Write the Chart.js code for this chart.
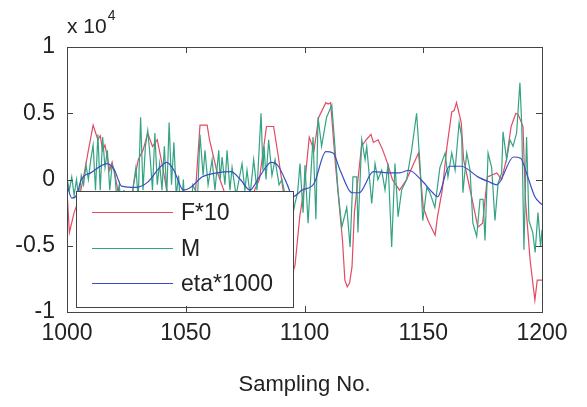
<!DOCTYPE html>
<html>
<head>
<meta charset="utf-8">
<title>F*10, M and eta*1000 against sampling number</title>
<script src="https://cdn.jsdelivr.net/npm/chart.js@4.4.1/dist/chart.umd.min.js"></script>
<style>
  html, body { margin: 0; padding: 0; background: #fff; }
  #wrap { position: relative; width: 587px; height: 407px; }
</style>
</head>
<body>
<div id="wrap"><canvas id="chart"></canvas></div>
<script>
// axis ticks (y values are in units of 1e4, see the "x 10^4" label)
const xTicks = [1000, 1050, 1100, 1150, 1200];
const xTickLabels = ['1000', '1050', '1100', '1150', '1200'];
const yTicks = [-1, -0.5, 0, 0.5, 1];
const yTickLabels = ['-1', '-0.5', '0', '0.5', '1'];

const seriesNames = ['F*10', 'M', 'eta*1000'];
const seriesColors = ['#e44a62', '#34a383', '#3b4cc6'];

// F*10, vertices only
const fX = [1000, 1001, 1003, 1005, 1007, 1009, 1011, 1013, 1014, 1015,
  1016, 1018, 1019, 1021, 1024, 1026, 1028, 1030, 1032, 1034,
  1036, 1038, 1040, 1042, 1044, 1048, 1051, 1054, 1056, 1059,
  1060, 1063, 1066, 1069, 1072, 1075, 1079, 1081, 1084, 1087,
  1089, 1091, 1093, 1095, 1096, 1098, 1100, 1102, 1104, 1106,
  1109, 1110, 1111, 1113, 1116, 1117, 1118, 1119, 1120, 1121,
  1124, 1126, 1128, 1129, 1131, 1133, 1135, 1137, 1140, 1143,
  1146, 1148, 1150, 1152, 1155, 1156, 1158, 1160, 1162, 1163,
  1164, 1166, 1167, 1170, 1173, 1175, 1177, 1181, 1183, 1185,
  1187, 1189, 1190, 1192, 1193, 1195, 1197, 1198, 1200];
const fY = [-0.08, -0.40, -0.25, -0.15, 0.02, 0.22, 0.41, 0.30, 0.33, 0.22,
  0.26, 0.07, 0.13, -0.04, -0.38, -0.30, -0.04, 0.15, 0.22, 0.35,
  0.25, 0.30, 0.12, -0.08, -0.46, -0.57, -0.38, -0.12, 0.41, 0.41,
  0.30, 0.07, -0.08, -0.42, -0.49, -0.27, -0.08, 0.0, 0.40, 0.40,
  0.17, -0.08, -0.61, -0.70, -0.65, -0.28, -0.05, 0.32, 0.22, 0.47,
  0.58, 0.57, 0.58, 0.12, -0.46, -0.76, -0.81, -0.78, -0.66, -0.25,
  0.25, 0.30, 0.34, 0.28, 0.30, 0.22, 0.12, 0.0, -0.08, 0.0,
  0.12, 0.20, -0.21, -0.31, -0.42, -0.28, -0.08, 0.25, 0.51, 0.52,
  0.58, 0.43, 0.15, -0.10, -0.36, -0.33, 0.02, 0.05, 0.0, 0.15,
  0.40, 0.50, 0.49, 0.40, -0.15, -0.61, -0.91, -0.76, -0.76];

// M - the spiky one
const mX = [1000, 1001, 1002, 1003, 1004, 1005, 1006, 1007, 1008, 1009,
  1010, 1011, 1012, 1013, 1014, 1015, 1016, 1017, 1018, 1019,
  1020, 1021, 1022, 1023, 1024, 1025, 1026, 1027, 1028, 1029,
  1030, 1031, 1032, 1033, 1034, 1035, 1036, 1037, 1038, 1039,
  1040, 1041, 1042, 1043, 1044, 1045, 1046, 1047, 1048, 1049,
  1050, 1051, 1052, 1053, 1055, 1056, 1057.3, 1058.1, 1059.4, 1061.1,
  1062.3, 1063.9, 1064.5, 1065.3, 1066.5, 1067.4, 1068.6, 1069.5, 1071.2, 1073.7,
  1074.9, 1075.8, 1077.1, 1078.6, 1080, 1081.7, 1082.5, 1083, 1083.8, 1084.9,
  1086.3, 1087.6, 1089.3, 1090.5, 1092.2, 1093.9, 1096, 1097.1, 1098.1, 1099.4,
  1100.2, 1101.5, 1103.6, 1104.8, 1105.7, 1107.2, 1109.3, 1111.5, 1112.8, 1114.1,
  1115.7, 1117.8, 1119.2, 1120.4, 1122, 1122.5, 1124.1, 1125.5, 1126.2, 1128.3,
  1129.7, 1130.9, 1132.5, 1133.9, 1135.2, 1136.7, 1138.1, 1139.4, 1140.9, 1143,
  1145.1, 1147.2, 1148.6, 1149.8, 1151.5, 1152.8, 1154.9, 1157, 1159.2, 1160.4,
  1162, 1163.4, 1165.1, 1166.2, 1166.7, 1168.3, 1169.7, 1170.9, 1172.5, 1173.9,
  1175.2, 1176, 1177.3, 1178.8, 1180.2, 1181.5, 1183, 1183.6, 1185.1, 1186.5,
  1187.8, 1189.3, 1190.7, 1191.5, 1192.4, 1193.5, 1194.5, 1196.1, 1197.1, 1198.3,
  1199.4, 1200];
const mY = [0.01, -0.08, 0.02, -0.12, 0.0, -0.15, 0.03, -0.04, 0.11, 0.0,
  0.15, 0.26, -0.08, 0.34, -0.08, 0.32, 0.09, 0.22, -0.08, 0.11,
  0.07, -0.15, -0.04, -0.27, -0.08, -0.34, -0.12, -0.23, -0.04, 0.09,
  -0.15, 0.47, -0.08, 0.25, 0.37, 0.17, -0.08, 0.35, -0.04, 0.12,
  -0.08, 0.25, -0.12, 0.43, -0.04, 0.28, -0.12, 0.03, -0.31, 0.0,
  -0.38, -0.12, -0.27, -0.04, -0.12, 0.34, 0.03, 0.22, -0.04, 0.15,
  -0.08, 0.22, 0.0, 0.17, -0.04, 0.22, -0.08, 0.09, -0.12, 0.12,
  -0.08, 0.07, -0.12, 0.15, -0.08, 0.50, 0.07, 0.25, 0.0, 0.30,
  0.03, 0.15, -0.04, 0.0, -0.15, -0.38, -0.18, -0.10, 0.12, -0.25,
  0.11, -0.33, 0.32, -0.30, 0.47, 0.25, 0.47, 0.56, 0.25, -0.08,
  -0.36, -0.21, -0.51, 0.02, 0.02, -0.40, 0.30, 0.15, 0.25, -0.18,
  0.12, 0.0, 0.07, -0.08, 0.12, -0.51, 0.12, -0.28, -0.08, 0.0,
  0.22, 0.50, 0.12, -0.31, -0.06, -0.10, -0.21, 0.09, 0.20, 0.02,
  0.20, 0.07, 0.43, 0.32, -0.10, 0.20, 0.07, -0.33, -0.43, -0.15,
  -0.15, -0.46, 0.20, 0.09, -0.31, -0.03, 0.05, 0.36, 0.15, 0.30,
  0.25, 0.35, 0.73, 0.40, -0.53, 0.32, -0.31, -0.40, -0.55, -0.25,
  -0.51, -0.38];

// eta*1000 - smooth
const etaX = [1000, 1002, 1004, 1006, 1010, 1017, 1020, 1023, 1029, 1034,
  1039, 1042, 1045, 1049, 1052, 1057, 1063, 1069, 1073, 1077,
  1081, 1086, 1089, 1093, 1095, 1099, 1104, 1109, 1112, 1115,
  1120, 1123, 1129, 1135, 1140, 1144, 1149, 1154, 1156, 1161,
  1166, 1173, 1178, 1181, 1188, 1191, 1194, 1197, 1200];
const etaY = [-0.04, -0.14, -0.12, 0.0, 0.05, 0.12, 0.07, -0.05, -0.06, -0.02,
  0.09, 0.13, 0.07, -0.08, -0.06, 0.02, 0.05, 0.06, 0.0, -0.08,
  0.02, 0.13, 0.10, -0.05, -0.13, -0.08, -0.03, 0.21, 0.20, 0.07,
  -0.10, -0.10, 0.06, 0.05, 0.05, 0.07, 0.0, -0.10, -0.13, 0.10,
  0.10, 0.02, -0.02, -0.04, 0.17, 0.16, 0.02, -0.13, -0.19];

const FONT = "'Liberation Sans', Arial, sans-serif";
const TEXT = '#222';
const AXIS = '#444';

function toPoints(xs, ys) {
  return xs.map((x, i) => ({ x: x, y: ys[i] }));
}

// matlab style: box round the axes, ticks pointing in, legend inside
const axesDecor = {
  id: 'axesDecor',
  afterDatasetsDraw(chart) {
    const ctx = chart.ctx;
    const a = chart.chartArea;
    const xs = chart.scales.x;
    const ys = chart.scales.y;
    ctx.save();

    // legend box
    const lb = { l: a.left + 9, t: a.top + 144, r: a.left + 226, b: a.bottom - 5 };
    ctx.fillStyle = '#fff';
    ctx.fillRect(lb.l, lb.t, lb.r - lb.l, lb.b - lb.t);
    ctx.strokeStyle = AXIS;
    ctx.lineWidth = 1;
    ctx.strokeRect(lb.l + 0.5, lb.t + 0.5, lb.r - lb.l, lb.b - lb.t);
    ctx.font = '23px ' + FONT;
    ctx.textBaseline = 'middle';
    chart.data.datasets.forEach((ds, i) => {
      const y = Math.round(lb.t + 21 + i * 35.5) + 0.5;
      ctx.strokeStyle = ds.borderColor;
      ctx.lineWidth = 1.2;
      ctx.beginPath();
      ctx.moveTo(lb.l + 16, y);
      ctx.lineTo(lb.l + 97, y);
      ctx.stroke();
      ctx.fillStyle = TEXT;
      ctx.fillText(ds.label, lb.l + 105, y + 1);
    });

    // frame
    ctx.strokeStyle = AXIS;
    ctx.lineWidth = 1;
    ctx.strokeRect(a.left + 0.5, a.top + 0.5, a.right - a.left, a.bottom - a.top);

    // inward ticks
    const len = 6;
    ctx.beginPath();
    xTicks.forEach(v => {
      const px = Math.round(xs.getPixelForValue(v)) + 0.5;
      ctx.moveTo(px, a.bottom); ctx.lineTo(px, a.bottom - len);
      ctx.moveTo(px, a.top); ctx.lineTo(px, a.top + len);
    });
    yTicks.forEach(v => {
      const py = Math.round(ys.getPixelForValue(v)) + 0.5;
      ctx.moveTo(a.left, py); ctx.lineTo(a.left + len, py);
      ctx.moveTo(a.right, py); ctx.lineTo(a.right - len, py);
    });
    ctx.stroke();

    // the x 10^4 exponent above the y axis
    ctx.fillStyle = TEXT;
    ctx.textBaseline = 'alphabetic';
    ctx.font = '21px ' + FONT;
    ctx.fillText('x 10', a.left, a.top - 14);
    const w = ctx.measureText('x 10').width;
    ctx.font = '14px ' + FONT;
    ctx.fillText('4', a.left + w + 1, a.top - 27);
    ctx.restore();
  }
};

const datasets = [
  { data: toPoints(fX, fY), order: 2 },
  { data: toPoints(mX, mY), order: 1 },
  { data: toPoints(etaX, etaY), order: 0, cubicInterpolationMode: 'monotone' }
].map((ds, i) => Object.assign({
  label: seriesNames[i],
  borderColor: seriesColors[i],
  backgroundColor: seriesColors[i],
  borderWidth: 1.2,
  pointRadius: 0,
  tension: 0,
  fill: false
}, ds));

new Chart(document.getElementById('chart'), {
  type: 'line',
  data: { datasets },
  options: {
    responsive: true,
    maintainAspectRatio: false,
    animation: false,
    events: [],
    layout: { padding: { top: 47, right: 45, left: 0, bottom: 0 } },
    plugins: { legend: { display: false }, tooltip: { enabled: false } },
    scales: {
      x: {
        type: 'linear',
        min: 1000,
        max: 1200,
        afterBuildTicks: s => { s.ticks = xTicks.map(v => ({ value: v })); },
        afterFit: s => { s.height = 95; },
        grid: { display: false, drawTicks: false },
        border: { display: false },
        ticks: {
          color: TEXT,
          font: { family: FONT, size: 23 },
          padding: 8,
          maxRotation: 0,
          autoSkip: false,
          callback: (v) => xTickLabels[xTicks.indexOf(v)]
        },
        title: {
          display: true,
          text: 'Sampling No.',
          color: TEXT,
          font: { family: FONT, size: 22 },
          padding: { top: 0, bottom: 9 }
        }
      },
      y: {
        min: -1,
        max: 1,
        afterBuildTicks: s => { s.ticks = yTicks.map(v => ({ value: v })); },
        afterFit: s => { s.width = 67; },
        grid: { display: false, drawTicks: false },
        border: { display: false },
        ticks: {
          color: TEXT,
          font: { family: FONT, size: 23 },
          padding: 12,
          callback: (v) => yTickLabels[yTicks.indexOf(v)]
        }
      }
    }
  },
  plugins: [axesDecor]
});
</script>
</body>
</html>
